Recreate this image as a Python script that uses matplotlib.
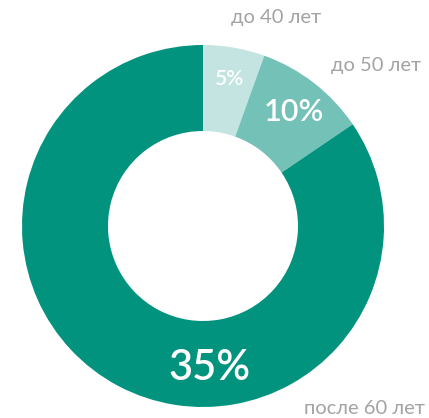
import matplotlib
matplotlib.use("Agg")
import matplotlib.pyplot as plt

categories = ["до 40 лет", "до 50 лет", "после 60 лет"]
values = [5.5, 10, 84.5]
pct_labels = ["5%", "10%", "35%"]
colors = ["#C3E4E1", "#74C1B7", "#02937F"]

W, H = 429, 418
fig = plt.figure(figsize=(W / 100, H / 100), dpi=100)
ax = fig.add_axes([0, 0, 1, 1])

cx, cy, R, w = 203, H - 226, 181, 86
ax.pie(values, colors=colors, startangle=90, counterclock=False,
       center=(cx, cy), radius=R, wedgeprops=dict(width=w, linewidth=0),
       frame=True)
ax.set_xlim(0, W)
ax.set_ylim(0, H)
ax.set_aspect("equal")
ax.axis("off")

font = "Lato"
pct_pos = [(230, 79), (294, 112), (210, 368)]
pct_size = [15, 22, 30]
for (x, y), s, t in zip(pct_pos, pct_size, pct_labels):
    ax.text(x, H - y, t, color="white", fontsize=s, family=font,
            ha="center", va="center", fontweight="semibold")

cat_pos = [(276, 18), (376, 66), (364, 408)]
for (x, y), t in zip(cat_pos, categories):
    ax.text(x, H - y, t, color="#A3A3A3", fontsize=14.5, family=font,
            ha="center", va="center")

fig.savefig("out.png", dpi=100)
